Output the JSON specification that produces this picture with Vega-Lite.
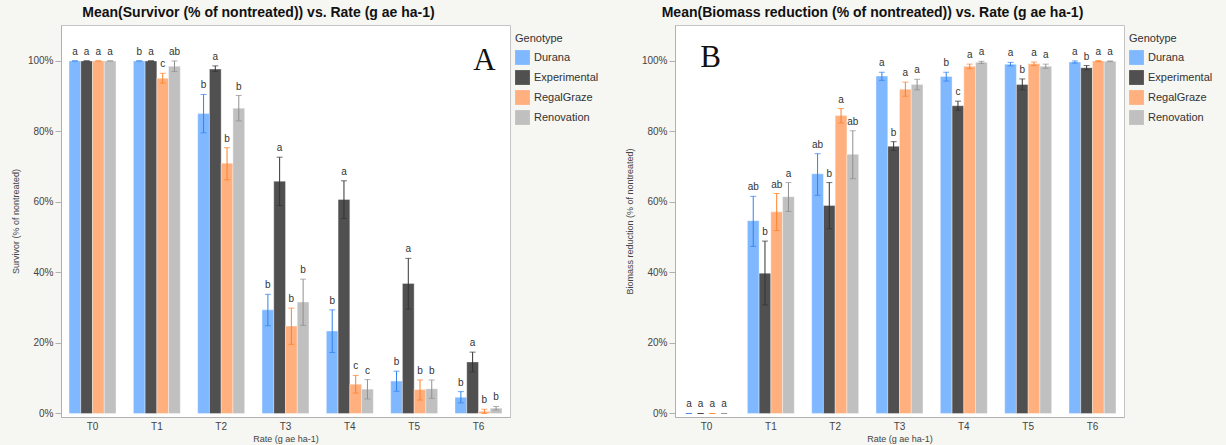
{
  "$schema": "https://vega.github.io/schema/vega-lite/v6.json",
  "background": "#f6f6f2",
  "padding": {"left": 10, "top": 5, "right": 5, "bottom": 5},
  "config": {
    "font": "Liberation Sans",
    "view": {"fill": "white", "stroke": "#c4c4c4", "strokeWidth": 1},
    "axis": {"labelFontSize": 10, "labelColor": "#444", "titleFontSize": 9, "titleFontWeight": "normal", "titleColor": "#444", "domainColor": "#b0b0b0", "tickColor": "#b0b0b0", "grid": false},
    "legend": {"titleFontSize": 11, "titleFontWeight": "normal", "titleColor": "#333", "labelFontSize": 11, "labelColor": "#333", "symbolType": "square", "symbolSize": 220, "symbolStrokeWidth": 0, "symbolOpacity": 1, "rowPadding": 5, "labelOffset": 4, "offset": -3, "padding": 8, "titlePadding": 6},
    "title": {"fontSize": 14, "fontWeight": "bold", "color": "#111", "dx": -27, "offset": 5},
    "text": {"font": "Liberation Sans"}
  },
  "datasets": {
    "survivor": [
      {"Rate": "T0", "Genotype": "Durana", "mean": 100, "lo": 100, "hi": 100, "letter": "a"},
      {"Rate": "T0", "Genotype": "Experimental", "mean": 100, "lo": 100, "hi": 100, "letter": "a"},
      {"Rate": "T0", "Genotype": "RegalGraze", "mean": 100, "lo": 100, "hi": 100, "letter": "a"},
      {"Rate": "T0", "Genotype": "Renovation", "mean": 100, "lo": 100, "hi": 100, "letter": "a"},
      {"Rate": "T1", "Genotype": "Durana", "mean": 100, "lo": 100, "hi": 100, "letter": "b"},
      {"Rate": "T1", "Genotype": "Experimental", "mean": 100, "lo": 100, "hi": 100, "letter": "a"},
      {"Rate": "T1", "Genotype": "RegalGraze", "mean": 95.1, "lo": 93.7, "hi": 96.5, "letter": "c"},
      {"Rate": "T1", "Genotype": "Renovation", "mean": 98.5, "lo": 97.0, "hi": 100.0, "letter": "ab"},
      {"Rate": "T2", "Genotype": "Durana", "mean": 85.1, "lo": 79.6, "hi": 90.5, "letter": "b"},
      {"Rate": "T2", "Genotype": "Experimental", "mean": 97.7, "lo": 97.0, "hi": 98.6, "letter": "a"},
      {"Rate": "T2", "Genotype": "RegalGraze", "mean": 71.0, "lo": 66.3, "hi": 75.4, "letter": "b"},
      {"Rate": "T2", "Genotype": "Renovation", "mean": 86.6, "lo": 83.0, "hi": 90.2, "letter": "b"},
      {"Rate": "T3", "Genotype": "Durana", "mean": 29.4, "lo": 24.9, "hi": 33.8, "letter": "b"},
      {"Rate": "T3", "Genotype": "Experimental", "mean": 65.9, "lo": 59.0, "hi": 72.7, "letter": "a"},
      {"Rate": "T3", "Genotype": "RegalGraze", "mean": 24.8, "lo": 19.6, "hi": 29.9, "letter": "b"},
      {"Rate": "T3", "Genotype": "Renovation", "mean": 31.6, "lo": 25.0, "hi": 38.1, "letter": "b"},
      {"Rate": "T4", "Genotype": "Durana", "mean": 23.4, "lo": 17.3, "hi": 29.4, "letter": "b"},
      {"Rate": "T4", "Genotype": "Experimental", "mean": 60.7, "lo": 55.3, "hi": 66.0, "letter": "a"},
      {"Rate": "T4", "Genotype": "RegalGraze", "mean": 8.3, "lo": 5.8, "hi": 10.8, "letter": "c"},
      {"Rate": "T4", "Genotype": "Renovation", "mean": 6.9, "lo": 4.1, "hi": 9.6, "letter": "c"},
      {"Rate": "T5", "Genotype": "Durana", "mean": 9.2, "lo": 6.3, "hi": 12.0, "letter": "b"},
      {"Rate": "T5", "Genotype": "Experimental", "mean": 36.9, "lo": 29.6, "hi": 44.0, "letter": "a"},
      {"Rate": "T5", "Genotype": "RegalGraze", "mean": 6.8, "lo": 3.8, "hi": 9.5, "letter": "b"},
      {"Rate": "T5", "Genotype": "Renovation", "mean": 7.0, "lo": 4.3, "hi": 9.5, "letter": "b"},
      {"Rate": "T6", "Genotype": "Durana", "mean": 4.6, "lo": 3.0, "hi": 6.2, "letter": "b"},
      {"Rate": "T6", "Genotype": "Experimental", "mean": 14.6, "lo": 11.8, "hi": 17.4, "letter": "a"},
      {"Rate": "T6", "Genotype": "RegalGraze", "mean": 0.6, "lo": 0.0, "hi": 1.2, "letter": "b"},
      {"Rate": "T6", "Genotype": "Renovation", "mean": 1.5, "lo": 1.0, "hi": 2.0, "letter": "b"}
    ],
    "biomass": [
      {"Rate": "T0", "Genotype": "Durana", "mean": 0, "lo": 0, "hi": 0, "letter": "a"},
      {"Rate": "T0", "Genotype": "Experimental", "mean": 0, "lo": 0, "hi": 0, "letter": "a"},
      {"Rate": "T0", "Genotype": "RegalGraze", "mean": 0, "lo": 0, "hi": 0, "letter": "a"},
      {"Rate": "T0", "Genotype": "Renovation", "mean": 0, "lo": 0, "hi": 0, "letter": "a"},
      {"Rate": "T1", "Genotype": "Durana", "mean": 54.7, "lo": 47.4, "hi": 61.6, "letter": "ab"},
      {"Rate": "T1", "Genotype": "Experimental", "mean": 39.8, "lo": 30.8, "hi": 48.9, "letter": "b"},
      {"Rate": "T1", "Genotype": "RegalGraze", "mean": 57.2, "lo": 51.9, "hi": 62.4, "letter": "ab"},
      {"Rate": "T1", "Genotype": "Renovation", "mean": 61.5, "lo": 57.3, "hi": 65.5, "letter": "a"},
      {"Rate": "T2", "Genotype": "Durana", "mean": 68.0, "lo": 61.9, "hi": 73.7, "letter": "ab"},
      {"Rate": "T2", "Genotype": "Experimental", "mean": 59.0, "lo": 52.4, "hi": 65.5, "letter": "b"},
      {"Rate": "T2", "Genotype": "RegalGraze", "mean": 84.5, "lo": 82.4, "hi": 86.5, "letter": "a"},
      {"Rate": "T2", "Genotype": "Renovation", "mean": 73.5, "lo": 66.6, "hi": 80.2, "letter": "ab"},
      {"Rate": "T3", "Genotype": "Durana", "mean": 95.7, "lo": 94.5, "hi": 96.8, "letter": "a"},
      {"Rate": "T3", "Genotype": "Experimental", "mean": 75.8, "lo": 74.6, "hi": 77.1, "letter": "b"},
      {"Rate": "T3", "Genotype": "RegalGraze", "mean": 92.0, "lo": 90.0, "hi": 94.0, "letter": "a"},
      {"Rate": "T3", "Genotype": "Renovation", "mean": 93.3, "lo": 91.8, "hi": 94.8, "letter": "a"},
      {"Rate": "T4", "Genotype": "Durana", "mean": 95.6, "lo": 94.3, "hi": 96.8, "letter": "b"},
      {"Rate": "T4", "Genotype": "Experimental", "mean": 87.3, "lo": 86.0, "hi": 88.6, "letter": "c"},
      {"Rate": "T4", "Genotype": "RegalGraze", "mean": 98.5, "lo": 97.8, "hi": 99.1, "letter": "a"},
      {"Rate": "T4", "Genotype": "Renovation", "mean": 99.6, "lo": 99.3, "hi": 99.9, "letter": "a"},
      {"Rate": "T5", "Genotype": "Durana", "mean": 99.1, "lo": 98.6, "hi": 99.6, "letter": "a"},
      {"Rate": "T5", "Genotype": "Experimental", "mean": 93.3, "lo": 91.8, "hi": 94.9, "letter": "b"},
      {"Rate": "T5", "Genotype": "RegalGraze", "mean": 99.2, "lo": 98.7, "hi": 99.7, "letter": "a"},
      {"Rate": "T5", "Genotype": "Renovation", "mean": 98.5, "lo": 97.9, "hi": 99.1, "letter": "a"},
      {"Rate": "T6", "Genotype": "Durana", "mean": 99.7, "lo": 99.4, "hi": 100.0, "letter": "a"},
      {"Rate": "T6", "Genotype": "Experimental", "mean": 98.1, "lo": 97.5, "hi": 98.7, "letter": "b"},
      {"Rate": "T6", "Genotype": "RegalGraze", "mean": 100, "lo": 99.8, "hi": 100.1, "letter": "a"},
      {"Rate": "T6", "Genotype": "Renovation", "mean": 99.9, "lo": 99.8, "hi": 100.0, "letter": "a"}
    ]
  },
  "spacing": 16,
  "resolve": {"scale": {"color": "independent"}},
  "hconcat": [
    {
      "width": 449,
      "height": 392,
      "data": {"name": "survivor"},
      "title": "Mean(Survivor (% of nontreated)) vs. Rate (g ae ha-1)",
      "encoding": {
        "x": {"field": "Rate", "type": "nominal", "scale": {"paddingInner": 0.27, "paddingOuter": 0.125}, "axis": {"title": "Rate (g ae ha-1)", "labelAngle": 0, "ticks": false, "labelPadding": 4, "titlePadding": 3}},
        "xOffset": {"field": "Genotype", "type": "nominal", "scale": {"paddingInner": 0, "paddingOuter": 0}}
      },
      "resolve": {"scale": {"color": "independent"}},
      "layer": [
        {
          "mark": {"type": "bar", "stroke": "white", "strokeWidth": 0.6, "strokeOpacity": 0.6},
          "encoding": {
            "y": {"field": "mean", "type": "quantitative", "scale": {"domain": [-1, 110.2], "nice": false, "zero": false}, "axis": {"title": "Survivor (% of nontreated)", "values": [0, 10, 20, 30, 40, 50, 60, 70, 80, 90, 100], "labelExpr": "datum.value % 20 === 0 ? datum.value + '%' : ''", "tickSize": {"condition": {"test": "datum.value % 20 === 0", "value": 6}, "value": 3}, "labelPadding": 2, "titlePadding": 7}},
            "y2": {"datum": 0},
            "color": {"field": "Genotype", "type": "nominal", "scale": {"domain": ["Durana", "Experimental", "RegalGraze", "Renovation"], "range": ["#80b8ff", "#505050", "#ffb07e", "#c0c0c0"]}, "legend": {"title": "Genotype"}}
          }
        },
        {
          "encoding": {
            "color": {"field": "Genotype", "type": "nominal", "scale": {"domain": ["Durana", "Experimental", "RegalGraze", "Renovation"], "range": ["#2f80f0", "#333333", "#ff7f27", "#8e8e8e"]}, "legend": null}
          },
          "layer": [
            {"mark": {"type": "rule", "strokeWidth": 1}, "encoding": {"y": {"field": "lo", "type": "quantitative"}, "y2": {"field": "hi"}}},
            {"mark": {"type": "tick", "orient": "horizontal", "size": 6, "thickness": 1}, "encoding": {"y": {"field": "lo", "type": "quantitative"}}},
            {"mark": {"type": "tick", "orient": "horizontal", "size": 6, "thickness": 1}, "encoding": {"y": {"field": "hi", "type": "quantitative"}}}
          ]
        },
        {
          "mark": {"type": "text", "baseline": "bottom", "dy": -4, "fontSize": 10, "color": "#333"},
          "encoding": {"y": {"field": "hi", "type": "quantitative"}, "text": {"field": "letter"}}
        },
        {
          "data": {"values": [{"panel": "A"}]},
          "mark": {"type": "text", "font": "Liberation Serif", "fontSize": 31, "baseline": "alphabetic", "color": "#111", "dx": 6},
          "encoding": {"x": {"datum": "T6"}, "y": {"datum": 97.4}, "text": {"field": "panel"}, "xOffset": null}
        }
      ]
    },
    {
      "width": 449,
      "height": 392,
      "data": {"name": "biomass"},
      "title": "Mean(Biomass reduction (% of nontreated)) vs. Rate (g ae ha-1)",
      "encoding": {
        "x": {"field": "Rate", "type": "nominal", "scale": {"paddingInner": 0.27, "paddingOuter": 0.125}, "axis": {"title": "Rate (g ae ha-1)", "labelAngle": 0, "ticks": false, "labelPadding": 4, "titlePadding": 3}},
        "xOffset": {"field": "Genotype", "type": "nominal", "scale": {"paddingInner": 0, "paddingOuter": 0}}
      },
      "resolve": {"scale": {"color": "independent"}},
      "layer": [
        {
          "mark": {"type": "bar", "stroke": "white", "strokeWidth": 0.6, "strokeOpacity": 0.6},
          "encoding": {
            "y": {"field": "mean", "type": "quantitative", "scale": {"domain": [-1, 110.2], "nice": false, "zero": false}, "axis": {"title": "Biomass reduction (% of nontreated)", "values": [0, 10, 20, 30, 40, 50, 60, 70, 80, 90, 100], "labelExpr": "datum.value % 20 === 0 ? datum.value + '%' : ''", "tickSize": {"condition": {"test": "datum.value % 20 === 0", "value": 6}, "value": 3}, "labelPadding": 2, "titlePadding": 7}},
            "y2": {"datum": 0},
            "color": {"field": "Genotype", "type": "nominal", "scale": {"domain": ["Durana", "Experimental", "RegalGraze", "Renovation"], "range": ["#80b8ff", "#505050", "#ffb07e", "#c0c0c0"]}, "legend": {"title": "Genotype"}}
          }
        },
        {
          "encoding": {
            "color": {"field": "Genotype", "type": "nominal", "scale": {"domain": ["Durana", "Experimental", "RegalGraze", "Renovation"], "range": ["#2f80f0", "#333333", "#ff7f27", "#8e8e8e"]}, "legend": null}
          },
          "layer": [
            {"mark": {"type": "rule", "strokeWidth": 1}, "encoding": {"y": {"field": "lo", "type": "quantitative"}, "y2": {"field": "hi"}}},
            {"mark": {"type": "tick", "orient": "horizontal", "size": 6, "thickness": 1}, "encoding": {"y": {"field": "lo", "type": "quantitative"}}},
            {"mark": {"type": "tick", "orient": "horizontal", "size": 6, "thickness": 1}, "encoding": {"y": {"field": "hi", "type": "quantitative"}}}
          ]
        },
        {
          "mark": {"type": "text", "baseline": "bottom", "dy": -4, "fontSize": 10, "color": "#333"},
          "encoding": {"y": {"field": "hi", "type": "quantitative"}, "text": {"field": "letter"}}
        },
        {
          "data": {"values": [{"panel": "B"}]},
          "mark": {"type": "text", "font": "Liberation Serif", "fontSize": 31, "baseline": "alphabetic", "color": "#111", "dx": 4},
          "encoding": {"x": {"datum": "T0"}, "y": {"datum": 98.3}, "text": {"field": "panel"}, "xOffset": null}
        }
      ]
    }
  ]
}
